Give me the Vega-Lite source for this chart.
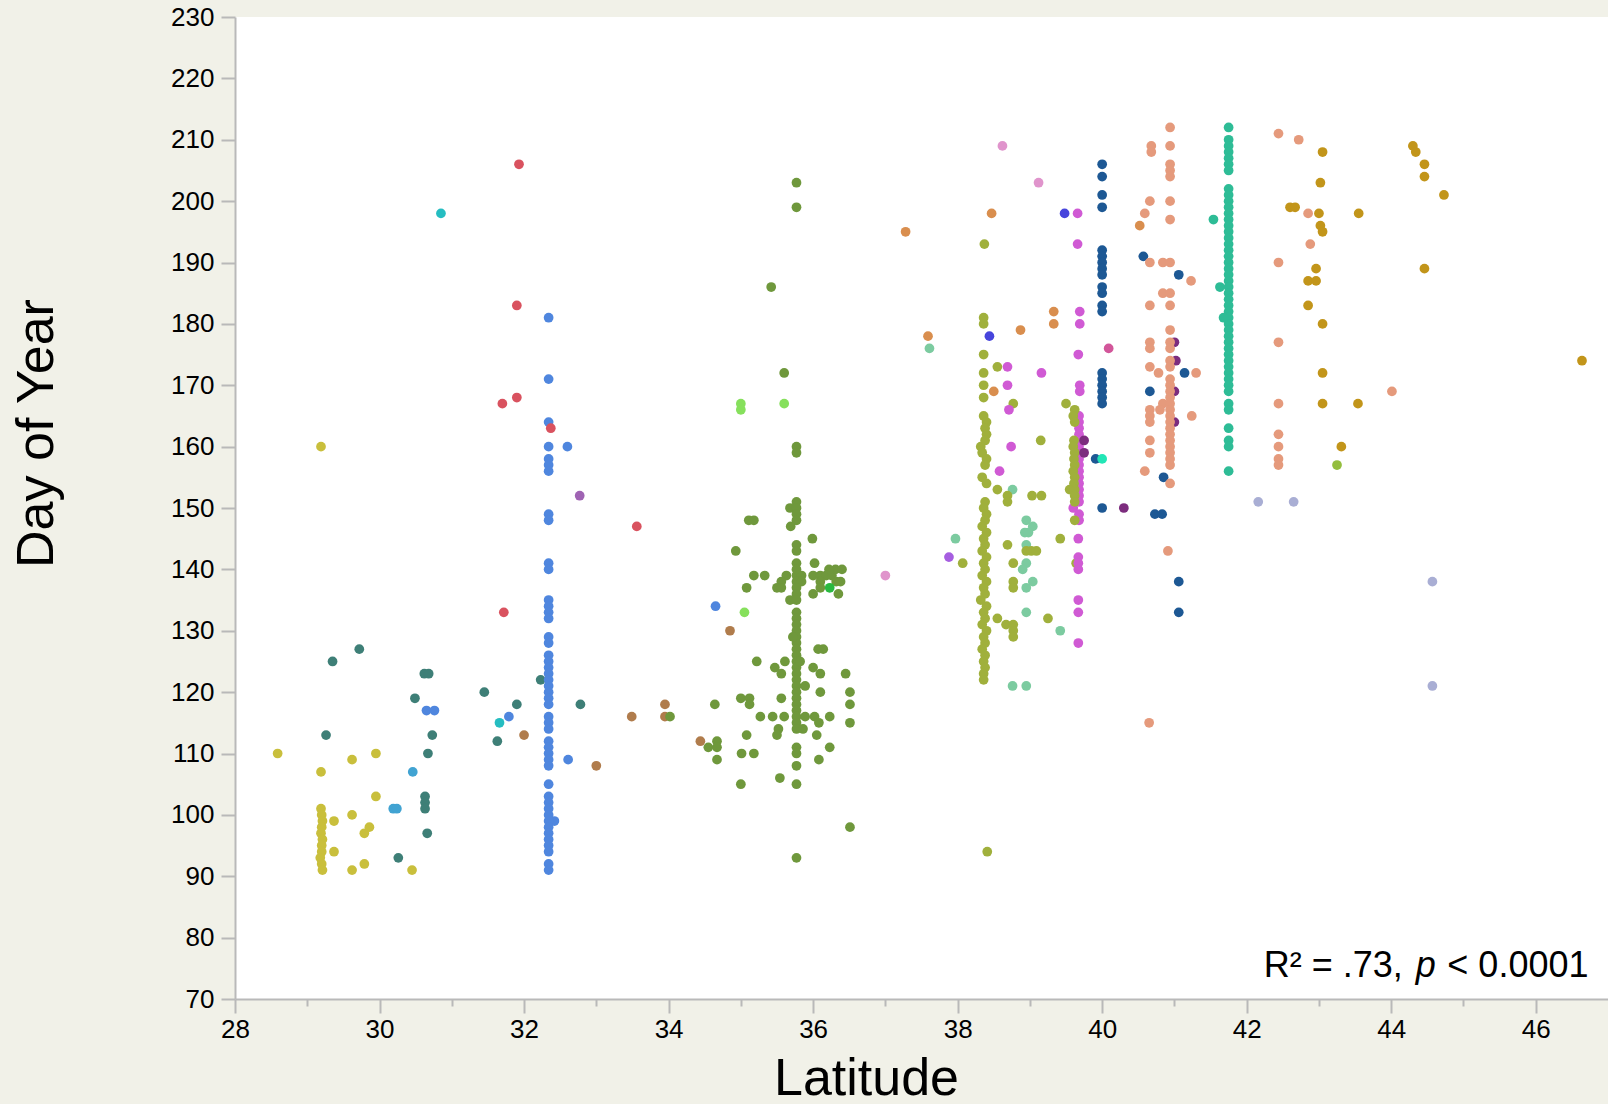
{
"$schema": "https://vega.github.io/schema/vega-lite/v6.json",
"width": 1373, "height": 982,
"autosize": {"type": "none"},
"padding": {"left": 235, "top": 17, "right": 0, "bottom": 105},
"background": "#f1f1e8",
"config": {"view": {"stroke": null, "fill": "#ffffff"}, "font": "Liberation Sans"},
"datasets": {
"pts": [
{"g":"g1","lat":28.59,"doy":110},{"g":"g1","lat":29.19,"doy":107},{"g":"g1","lat":29.19,"doy":160},{"g":"g1","lat":29.19,"doy":101},{"g":"g1","lat":29.2,"doy":100},{"g":"g1","lat":29.21,"doy":99},{"g":"g1","lat":29.2,"doy":98},{"g":"g1","lat":29.19,"doy":97},{"g":"g1","lat":29.21,"doy":96},{"g":"g1","lat":29.2,"doy":95},{"g":"g1","lat":29.2,"doy":94},{"g":"g1","lat":29.18,"doy":93},{"g":"g1","lat":29.2,"doy":92},{"g":"g1","lat":29.21,"doy":91},{"g":"g1","lat":29.37,"doy":99},{"g":"g1","lat":29.37,"doy":94},{"g":"g1","lat":29.62,"doy":109},{"g":"g1","lat":29.62,"doy":100},{"g":"g1","lat":29.62,"doy":91},{"g":"g1","lat":29.79,"doy":97},{"g":"g1","lat":29.86,"doy":98},{"g":"g1","lat":29.79,"doy":92},{"g":"g1","lat":29.95,"doy":110},{"g":"g1","lat":29.95,"doy":103},{"g":"g1","lat":30.45,"doy":91},
{"g":"g2","lat":29.35,"doy":125},{"g":"g2","lat":29.72,"doy":127},{"g":"g2","lat":29.26,"doy":113},{"g":"g2","lat":30.49,"doy":119},{"g":"g2","lat":30.62,"doy":123},{"g":"g2","lat":30.68,"doy":123},{"g":"g2","lat":30.73,"doy":113},{"g":"g2","lat":30.67,"doy":110},{"g":"g2","lat":30.63,"doy":103},{"g":"g2","lat":30.63,"doy":102},{"g":"g2","lat":30.63,"doy":101},{"g":"g2","lat":30.66,"doy":97},{"g":"g2","lat":30.26,"doy":93},{"g":"g2","lat":31.45,"doy":120},{"g":"g2","lat":31.9,"doy":118},{"g":"g2","lat":32.23,"doy":122},{"g":"g2","lat":32.78,"doy":118},{"g":"g2","lat":31.63,"doy":112},
{"g":"g3","lat":30.46,"doy":107},{"g":"g3","lat":30.19,"doy":101},{"g":"g3","lat":30.24,"doy":101},
{"g":"g4","lat":30.65,"doy":117},{"g":"g4","lat":30.76,"doy":117},{"g":"g4","lat":31.79,"doy":116},{"g":"g4","lat":32.61,"doy":109},{"g":"g4","lat":32.42,"doy":99},{"g":"g4","lat":32.6,"doy":160},{"g":"g4","lat":34.65,"doy":134},
{"g":"g4","lat":32.34,"doy":181},{"g":"g4","lat":32.34,"doy":171},{"g":"g4","lat":32.34,"doy":164},{"g":"g4","lat":32.34,"doy":160},{"g":"g4","lat":32.34,"doy":158},{"g":"g4","lat":32.34,"doy":157},{"g":"g4","lat":32.34,"doy":156},{"g":"g4","lat":32.34,"doy":149},{"g":"g4","lat":32.34,"doy":148},{"g":"g4","lat":32.34,"doy":141},{"g":"g4","lat":32.34,"doy":140},{"g":"g4","lat":32.34,"doy":135},{"g":"g4","lat":32.34,"doy":134},{"g":"g4","lat":32.34,"doy":133},{"g":"g4","lat":32.34,"doy":132},{"g":"g4","lat":32.34,"doy":129},{"g":"g4","lat":32.34,"doy":128},{"g":"g4","lat":32.34,"doy":126},{"g":"g4","lat":32.34,"doy":125},{"g":"g4","lat":32.34,"doy":124},{"g":"g4","lat":32.34,"doy":123},{"g":"g4","lat":32.34,"doy":122},{"g":"g4","lat":32.34,"doy":121},{"g":"g4","lat":32.34,"doy":120},{"g":"g4","lat":32.34,"doy":119},{"g":"g4","lat":32.34,"doy":118},{"g":"g4","lat":32.34,"doy":116},{"g":"g4","lat":32.34,"doy":115},{"g":"g4","lat":32.34,"doy":114},{"g":"g4","lat":32.34,"doy":112},{"g":"g4","lat":32.34,"doy":111},{"g":"g4","lat":32.34,"doy":110},{"g":"g4","lat":32.34,"doy":109},{"g":"g4","lat":32.34,"doy":108},{"g":"g4","lat":32.34,"doy":105},{"g":"g4","lat":32.34,"doy":103},{"g":"g4","lat":32.34,"doy":102},{"g":"g4","lat":32.34,"doy":101},{"g":"g4","lat":32.34,"doy":100},{"g":"g4","lat":32.34,"doy":99},{"g":"g4","lat":32.34,"doy":98},{"g":"g4","lat":32.34,"doy":97},{"g":"g4","lat":32.34,"doy":96},{"g":"g4","lat":32.34,"doy":95},{"g":"g4","lat":32.34,"doy":94},{"g":"g4","lat":32.34,"doy":92},{"g":"g4","lat":32.34,"doy":91},
{"g":"g5","lat":31.93,"doy":206},{"g":"g5","lat":31.9,"doy":183},{"g":"g5","lat":31.9,"doy":168},{"g":"g5","lat":31.7,"doy":167},{"g":"g5","lat":32.37,"doy":163},{"g":"g5","lat":33.56,"doy":147},{"g":"g5","lat":31.72,"doy":133},
{"g":"g6","lat":30.85,"doy":198},{"g":"g6","lat":31.66,"doy":115},
{"g":"g7","lat":32.0,"doy":113},{"g":"g7","lat":33.0,"doy":108},{"g":"g7","lat":33.49,"doy":116},{"g":"g7","lat":33.95,"doy":118},{"g":"g7","lat":33.95,"doy":116},{"g":"g7","lat":34.44,"doy":112},{"g":"g7","lat":34.85,"doy":130},
{"g":"g8","lat":32.77,"doy":152},
{"g":"g9","lat":35.77,"doy":203},{"g":"g9","lat":35.77,"doy":199},{"g":"g9","lat":35.42,"doy":186},{"g":"g9","lat":35.6,"doy":172},{"g":"g9","lat":35.77,"doy":160},{"g":"g9","lat":35.77,"doy":159},{"g":"g9","lat":35.77,"doy":151},{"g":"g9","lat":35.68,"doy":150},{"g":"g9","lat":35.77,"doy":150},{"g":"g9","lat":35.77,"doy":149},{"g":"g9","lat":35.77,"doy":148},{"g":"g9","lat":35.11,"doy":148},{"g":"g9","lat":35.18,"doy":148},{"g":"g9","lat":35.69,"doy":147},{"g":"g9","lat":35.99,"doy":145},{"g":"g9","lat":35.77,"doy":144},{"g":"g9","lat":35.77,"doy":143},{"g":"g9","lat":34.93,"doy":143},{"g":"g9","lat":35.77,"doy":141},{"g":"g9","lat":36.02,"doy":141},{"g":"g9","lat":35.18,"doy":139},{"g":"g9","lat":35.33,"doy":139},
{"g":"g9","lat":35.63,"doy":139},{"g":"g9","lat":35.77,"doy":139},{"g":"g9","lat":35.84,"doy":139},{"g":"g9","lat":36.0,"doy":139},{"g":"g9","lat":36.1,"doy":139},{"g":"g9","lat":36.18,"doy":139},{"g":"g9","lat":36.26,"doy":139},{"g":"g9","lat":36.31,"doy":140},{"g":"g9","lat":36.4,"doy":140},{"g":"g9","lat":36.22,"doy":140},{"g":"g9","lat":35.77,"doy":140},{"g":"g9","lat":35.56,"doy":138},{"g":"g9","lat":35.77,"doy":138},{"g":"g9","lat":35.84,"doy":138},{"g":"g9","lat":36.1,"doy":138},{"g":"g9","lat":36.32,"doy":138},{"g":"g9","lat":36.38,"doy":138},{"g":"g9","lat":35.08,"doy":137},{"g":"g9","lat":35.5,"doy":137},{"g":"g9","lat":35.56,"doy":137},{"g":"g9","lat":35.77,"doy":137},{"g":"g9","lat":36.1,"doy":137},{"g":"g9","lat":35.77,"doy":136},{"g":"g9","lat":36.0,"doy":136},{"g":"g9","lat":36.35,"doy":136},{"g":"g9","lat":35.68,"doy":135},{"g":"g9","lat":35.77,"doy":135},
{"g":"g9","lat":35.77,"doy":133},{"g":"g9","lat":35.77,"doy":132},{"g":"g9","lat":35.77,"doy":131},{"g":"g9","lat":35.77,"doy":130},{"g":"g9","lat":35.77,"doy":129},{"g":"g9","lat":35.77,"doy":128},{"g":"g9","lat":35.77,"doy":127},{"g":"g9","lat":35.77,"doy":126},{"g":"g9","lat":35.77,"doy":125},{"g":"g9","lat":35.77,"doy":124},{"g":"g9","lat":35.77,"doy":123},{"g":"g9","lat":35.77,"doy":122},{"g":"g9","lat":35.77,"doy":121},{"g":"g9","lat":35.77,"doy":120},{"g":"g9","lat":35.77,"doy":119},{"g":"g9","lat":35.77,"doy":118},{"g":"g9","lat":35.77,"doy":117},{"g":"g9","lat":35.77,"doy":116},{"g":"g9","lat":35.77,"doy":115},{"g":"g9","lat":35.77,"doy":114},
{"g":"g9","lat":35.72,"doy":129},{"g":"g9","lat":36.14,"doy":127},{"g":"g9","lat":36.07,"doy":127},{"g":"g9","lat":35.22,"doy":125},{"g":"g9","lat":35.61,"doy":125},{"g":"g9","lat":35.82,"doy":125},{"g":"g9","lat":35.47,"doy":124},{"g":"g9","lat":35.56,"doy":123},{"g":"g9","lat":36.0,"doy":124},{"g":"g9","lat":36.1,"doy":123},{"g":"g9","lat":36.45,"doy":123},{"g":"g9","lat":35.89,"doy":121},{"g":"g9","lat":36.1,"doy":120},{"g":"g9","lat":36.51,"doy":120},{"g":"g9","lat":36.51,"doy":118},{"g":"g9","lat":36.51,"doy":115},{"g":"g9","lat":35.0,"doy":119},{"g":"g9","lat":35.12,"doy":119},{"g":"g9","lat":35.12,"doy":118},{"g":"g9","lat":35.56,"doy":119},{"g":"g9","lat":34.64,"doy":118},{"g":"g9","lat":35.27,"doy":116},{"g":"g9","lat":35.44,"doy":116},{"g":"g9","lat":35.6,"doy":116},{"g":"g9","lat":35.89,"doy":116},{"g":"g9","lat":36.02,"doy":116},{"g":"g9","lat":36.23,"doy":116},{"g":"g9","lat":34.02,"doy":116},{"g":"g9","lat":36.08,"doy":115},{"g":"g9","lat":35.52,"doy":114},{"g":"g9","lat":35.86,"doy":114},{"g":"g9","lat":35.08,"doy":113},{"g":"g9","lat":35.5,"doy":113},{"g":"g9","lat":36.05,"doy":113},{"g":"g9","lat":34.67,"doy":112},{"g":"g9","lat":34.55,"doy":111},{"g":"g9","lat":34.67,"doy":111},{"g":"g9","lat":35.77,"doy":111},{"g":"g9","lat":35.77,"doy":110},{"g":"g9","lat":36.23,"doy":111},{"g":"g9","lat":35.01,"doy":110},{"g":"g9","lat":35.18,"doy":110},{"g":"g9","lat":36.08,"doy":109},{"g":"g9","lat":34.67,"doy":109},{"g":"g9","lat":35.77,"doy":108},{"g":"g9","lat":35.54,"doy":106},{"g":"g9","lat":35.0,"doy":105},{"g":"g9","lat":35.77,"doy":105},{"g":"g9","lat":36.51,"doy":98},{"g":"g9","lat":35.77,"doy":93},
{"g":"g10","lat":35.0,"doy":167},{"g":"g10","lat":35.0,"doy":166},{"g":"g10","lat":35.6,"doy":167},{"g":"g10","lat":35.05,"doy":133},
{"g":"g11","lat":36.23,"doy":137},
{"g":"g12","lat":37.0,"doy":139},{"g":"g12","lat":38.62,"doy":209},{"g":"g12","lat":39.12,"doy":203},
{"g":"g13","lat":37.59,"doy":178},{"g":"g13","lat":37.28,"doy":195},{"g":"g13","lat":38.47,"doy":198},{"g":"g13","lat":39.33,"doy":182},{"g":"g13","lat":39.33,"doy":180},{"g":"g13","lat":38.87,"doy":179},{"g":"g13","lat":38.5,"doy":169},{"g":"g13","lat":40.52,"doy":196},
{"g":"g14","lat":37.61,"doy":176},{"g":"g14","lat":38.76,"doy":153},{"g":"g14","lat":38.95,"doy":148},{"g":"g14","lat":39.04,"doy":147},{"g":"g14","lat":38.93,"doy":146},{"g":"g14","lat":38.98,"doy":146},{"g":"g14","lat":37.97,"doy":145},{"g":"g14","lat":38.95,"doy":144},{"g":"g14","lat":38.95,"doy":141},{"g":"g14","lat":38.9,"doy":140},{"g":"g14","lat":39.04,"doy":138},{"g":"g14","lat":38.95,"doy":137},{"g":"g14","lat":38.95,"doy":133},{"g":"g14","lat":39.42,"doy":130},{"g":"g14","lat":38.76,"doy":121},{"g":"g14","lat":38.95,"doy":121},
{"g":"g15","lat":38.36,"doy":181},{"g":"g15","lat":38.36,"doy":180},{"g":"g15","lat":38.36,"doy":175},{"g":"g15","lat":38.55,"doy":173},{"g":"g15","lat":38.36,"doy":172},{"g":"g15","lat":38.36,"doy":170},{"g":"g15","lat":38.36,"doy":168},{"g":"g15","lat":38.77,"doy":167},{"g":"g15","lat":39.5,"doy":167},{"g":"g15","lat":39.15,"doy":161},{"g":"g15","lat":38.37,"doy":193},{"g":"g15","lat":38.41,"doy":94},
{"g":"g15","lat":38.36,"doy":165},{"g":"g15","lat":38.4,"doy":164},{"g":"g15","lat":38.38,"doy":163},{"g":"g15","lat":38.4,"doy":162},{"g":"g15","lat":38.38,"doy":161},{"g":"g15","lat":38.32,"doy":160},{"g":"g15","lat":38.34,"doy":159},{"g":"g15","lat":38.4,"doy":158},{"g":"g15","lat":38.38,"doy":157},{"g":"g15","lat":38.34,"doy":155},{"g":"g15","lat":38.4,"doy":154},{"g":"g15","lat":38.38,"doy":151},{"g":"g15","lat":38.36,"doy":150},{"g":"g15","lat":38.4,"doy":149},{"g":"g15","lat":38.38,"doy":148},{"g":"g15","lat":38.34,"doy":147},{"g":"g15","lat":38.4,"doy":146},{"g":"g15","lat":38.36,"doy":145},{"g":"g15","lat":38.38,"doy":144},{"g":"g15","lat":38.34,"doy":143},{"g":"g15","lat":38.4,"doy":142},{"g":"g15","lat":38.36,"doy":141},{"g":"g15","lat":38.38,"doy":140},{"g":"g15","lat":38.34,"doy":139},{"g":"g15","lat":38.4,"doy":138},{"g":"g15","lat":38.36,"doy":137},{"g":"g15","lat":38.38,"doy":136},{"g":"g15","lat":38.32,"doy":135},{"g":"g15","lat":38.4,"doy":134},{"g":"g15","lat":38.36,"doy":133},{"g":"g15","lat":38.38,"doy":132},{"g":"g15","lat":38.34,"doy":131},{"g":"g15","lat":38.4,"doy":130},{"g":"g15","lat":38.36,"doy":129},{"g":"g15","lat":38.38,"doy":128},{"g":"g15","lat":38.34,"doy":127},{"g":"g15","lat":38.38,"doy":126},{"g":"g15","lat":38.36,"doy":125},{"g":"g15","lat":38.38,"doy":124},{"g":"g15","lat":38.36,"doy":123},{"g":"g15","lat":38.36,"doy":122},
{"g":"g15","lat":38.55,"doy":153},{"g":"g15","lat":38.69,"doy":152},{"g":"g15","lat":38.69,"doy":151},{"g":"g15","lat":39.03,"doy":152},{"g":"g15","lat":39.16,"doy":152},{"g":"g15","lat":38.69,"doy":144},{"g":"g15","lat":39.42,"doy":145},{"g":"g15","lat":38.95,"doy":143},{"g":"g15","lat":39.02,"doy":143},{"g":"g15","lat":39.09,"doy":143},{"g":"g15","lat":38.07,"doy":141},{"g":"g15","lat":38.77,"doy":141},{"g":"g15","lat":38.77,"doy":138},{"g":"g15","lat":38.77,"doy":137},{"g":"g15","lat":38.55,"doy":132},{"g":"g15","lat":38.67,"doy":131},{"g":"g15","lat":38.77,"doy":131},{"g":"g15","lat":38.77,"doy":130},{"g":"g15","lat":38.77,"doy":129},{"g":"g15","lat":39.25,"doy":132},{"g":"g15","lat":39.64,"doy":141},
{"g":"g16","lat":39.69,"doy":182},{"g":"g16","lat":39.69,"doy":180},{"g":"g16","lat":39.67,"doy":175},{"g":"g16","lat":38.69,"doy":173},{"g":"g16","lat":39.16,"doy":172},{"g":"g16","lat":38.69,"doy":170},{"g":"g16","lat":39.69,"doy":170},{"g":"g16","lat":39.69,"doy":169},{"g":"g16","lat":38.71,"doy":166},{"g":"g16","lat":38.58,"doy":156},{"g":"g16","lat":38.74,"doy":160},{"g":"g16","lat":39.66,"doy":198},{"g":"g16","lat":39.66,"doy":193},{"g":"g16","lat":39.67,"doy":145},{"g":"g16","lat":39.67,"doy":142},{"g":"g16","lat":39.67,"doy":141},{"g":"g16","lat":39.67,"doy":140},{"g":"g16","lat":39.67,"doy":135},{"g":"g16","lat":39.67,"doy":133},{"g":"g16","lat":39.67,"doy":128},
{"g":"g16","lat":39.68,"doy":165},{"g":"g16","lat":39.68,"doy":164},{"g":"g16","lat":39.68,"doy":163},{"g":"g16","lat":39.68,"doy":162},{"g":"g16","lat":39.68,"doy":161},{"g":"g16","lat":39.68,"doy":160},{"g":"g16","lat":39.68,"doy":159},{"g":"g16","lat":39.68,"doy":158},{"g":"g16","lat":39.68,"doy":157},{"g":"g16","lat":39.68,"doy":156},{"g":"g16","lat":39.68,"doy":155},{"g":"g16","lat":39.68,"doy":154},{"g":"g16","lat":39.68,"doy":153},{"g":"g16","lat":39.68,"doy":152},{"g":"g16","lat":39.68,"doy":151},{"g":"g16","lat":39.6,"doy":150},{"g":"g16","lat":39.68,"doy":149},{"g":"g16","lat":39.68,"doy":148},
{"g":"g15","lat":39.62,"doy":166},{"g":"g15","lat":39.6,"doy":165},{"g":"g15","lat":39.62,"doy":164},{"g":"g15","lat":39.61,"doy":161},{"g":"g15","lat":39.6,"doy":160},{"g":"g15","lat":39.62,"doy":159},{"g":"g15","lat":39.61,"doy":158},{"g":"g15","lat":39.62,"doy":157},{"g":"g15","lat":39.6,"doy":156},{"g":"g15","lat":39.62,"doy":155},{"g":"g15","lat":39.61,"doy":154},{"g":"g15","lat":39.62,"doy":153},{"g":"g15","lat":39.55,"doy":153},{"g":"g15","lat":39.62,"doy":152},{"g":"g15","lat":39.62,"doy":151},{"g":"g15","lat":39.62,"doy":148},
{"g":"g17","lat":37.88,"doy":142},
{"g":"g18","lat":38.44,"doy":178},{"g":"g18","lat":39.48,"doy":198},
{"g":"g19","lat":40.0,"doy":206},{"g":"g19","lat":40.0,"doy":204},{"g":"g19","lat":40.0,"doy":201},{"g":"g19","lat":40.0,"doy":199},{"g":"g19","lat":40.0,"doy":192},{"g":"g19","lat":40.0,"doy":191},{"g":"g19","lat":40.0,"doy":190},{"g":"g19","lat":40.0,"doy":189},{"g":"g19","lat":40.0,"doy":188},{"g":"g19","lat":40.0,"doy":186},{"g":"g19","lat":40.0,"doy":185},{"g":"g19","lat":40.0,"doy":183},{"g":"g19","lat":40.0,"doy":182},{"g":"g19","lat":40.0,"doy":172},{"g":"g19","lat":40.0,"doy":171},{"g":"g19","lat":40.0,"doy":170},{"g":"g19","lat":40.0,"doy":169},{"g":"g19","lat":40.0,"doy":168},{"g":"g19","lat":40.0,"doy":167},{"g":"g19","lat":40.57,"doy":191},{"g":"g19","lat":41.06,"doy":188},{"g":"g19","lat":41.14,"doy":172},{"g":"g19","lat":40.66,"doy":169},{"g":"g19","lat":40.85,"doy":155},{"g":"g19","lat":39.91,"doy":158},{"g":"g19","lat":40.0,"doy":150},{"g":"g19","lat":40.73,"doy":149},{"g":"g19","lat":40.83,"doy":149},{"g":"g19","lat":41.06,"doy":138},{"g":"g19","lat":41.06,"doy":133},
{"g":"g21","lat":41.0,"doy":177},{"g":"g21","lat":41.02,"doy":174},{"g":"g21","lat":41.0,"doy":169},{"g":"g21","lat":41.0,"doy":164},{"g":"g21","lat":39.75,"doy":161},{"g":"g21","lat":39.75,"doy":159},{"g":"g21","lat":40.3,"doy":150},
{"g":"g20","lat":40.94,"doy":212},{"g":"g20","lat":40.68,"doy":209},{"g":"g20","lat":40.68,"doy":208},{"g":"g20","lat":40.94,"doy":209},{"g":"g20","lat":40.94,"doy":206},{"g":"g20","lat":40.94,"doy":205},{"g":"g20","lat":40.94,"doy":204},{"g":"g20","lat":40.66,"doy":200},{"g":"g20","lat":40.94,"doy":200},{"g":"g20","lat":40.59,"doy":198},{"g":"g20","lat":40.94,"doy":197},{"g":"g20","lat":40.66,"doy":190},{"g":"g20","lat":40.84,"doy":190},{"g":"g20","lat":40.94,"doy":190},{"g":"g20","lat":41.23,"doy":187},{"g":"g20","lat":40.84,"doy":185},{"g":"g20","lat":40.94,"doy":185},{"g":"g20","lat":40.66,"doy":183},{"g":"g20","lat":40.94,"doy":183},{"g":"g20","lat":40.94,"doy":179},{"g":"g20","lat":40.66,"doy":177},{"g":"g20","lat":40.66,"doy":176},{"g":"g20","lat":40.94,"doy":177},{"g":"g20","lat":40.94,"doy":176},{"g":"g20","lat":40.94,"doy":174},{"g":"g20","lat":40.66,"doy":173},{"g":"g20","lat":40.94,"doy":173},{"g":"g20","lat":40.78,"doy":172},{"g":"g20","lat":41.3,"doy":172},{"g":"g20","lat":40.84,"doy":167},{"g":"g20","lat":40.8,"doy":166},{"g":"g20","lat":40.66,"doy":166},{"g":"g20","lat":40.66,"doy":165},{"g":"g20","lat":40.66,"doy":164},{"g":"g20","lat":41.24,"doy":165},{"g":"g20","lat":40.66,"doy":161},{"g":"g20","lat":40.66,"doy":159},{"g":"g20","lat":40.59,"doy":156},{"g":"g20","lat":40.94,"doy":157},{"g":"g20","lat":40.94,"doy":154},{"g":"g20","lat":40.91,"doy":143},{"g":"g20","lat":40.65,"doy":115},
{"g":"g20","lat":40.94,"doy":171},{"g":"g20","lat":40.94,"doy":170},{"g":"g20","lat":40.94,"doy":169},{"g":"g20","lat":40.94,"doy":168},{"g":"g20","lat":40.94,"doy":167},{"g":"g20","lat":40.94,"doy":166},{"g":"g20","lat":40.94,"doy":165},{"g":"g20","lat":40.94,"doy":164},{"g":"g20","lat":40.94,"doy":163},{"g":"g20","lat":40.94,"doy":162},{"g":"g20","lat":40.94,"doy":161},{"g":"g20","lat":40.94,"doy":160},{"g":"g20","lat":40.94,"doy":159},{"g":"g20","lat":40.94,"doy":158},
{"g":"g20","lat":42.44,"doy":211},{"g":"g20","lat":42.72,"doy":210},{"g":"g20","lat":42.44,"doy":190},{"g":"g20","lat":42.85,"doy":198},{"g":"g20","lat":42.88,"doy":193},{"g":"g20","lat":42.44,"doy":177},{"g":"g20","lat":44.01,"doy":169},{"g":"g20","lat":42.44,"doy":167},{"g":"g20","lat":42.44,"doy":162},{"g":"g20","lat":42.44,"doy":160},{"g":"g20","lat":42.44,"doy":158},{"g":"g20","lat":42.44,"doy":157},
{"g":"g22","lat":41.75,"doy":212},{"g":"g22","lat":41.75,"doy":210},{"g":"g22","lat":41.75,"doy":209},{"g":"g22","lat":41.75,"doy":208},{"g":"g22","lat":41.75,"doy":207},{"g":"g22","lat":41.75,"doy":206},{"g":"g22","lat":41.75,"doy":205},{"g":"g22","lat":41.75,"doy":202},{"g":"g22","lat":41.75,"doy":201},{"g":"g22","lat":41.75,"doy":200},{"g":"g22","lat":41.75,"doy":199},{"g":"g22","lat":41.75,"doy":198},{"g":"g22","lat":41.75,"doy":197},{"g":"g22","lat":41.75,"doy":196},{"g":"g22","lat":41.75,"doy":195},{"g":"g22","lat":41.75,"doy":194},{"g":"g22","lat":41.75,"doy":193},{"g":"g22","lat":41.75,"doy":192},{"g":"g22","lat":41.75,"doy":191},{"g":"g22","lat":41.75,"doy":190},{"g":"g22","lat":41.75,"doy":189},{"g":"g22","lat":41.75,"doy":188},{"g":"g22","lat":41.75,"doy":187},{"g":"g22","lat":41.75,"doy":186},{"g":"g22","lat":41.75,"doy":185},{"g":"g22","lat":41.75,"doy":184},{"g":"g22","lat":41.75,"doy":183},{"g":"g22","lat":41.75,"doy":182},{"g":"g22","lat":41.75,"doy":181},{"g":"g22","lat":41.75,"doy":180},{"g":"g22","lat":41.75,"doy":179},{"g":"g22","lat":41.75,"doy":178},{"g":"g22","lat":41.75,"doy":177},{"g":"g22","lat":41.75,"doy":176},{"g":"g22","lat":41.75,"doy":175},{"g":"g22","lat":41.75,"doy":174},{"g":"g22","lat":41.75,"doy":173},{"g":"g22","lat":41.75,"doy":172},{"g":"g22","lat":41.75,"doy":171},{"g":"g22","lat":41.75,"doy":170},{"g":"g22","lat":41.75,"doy":169},{"g":"g22","lat":41.75,"doy":167},{"g":"g22","lat":41.75,"doy":166},{"g":"g22","lat":41.75,"doy":163},{"g":"g22","lat":41.75,"doy":161},{"g":"g22","lat":41.75,"doy":160},{"g":"g22","lat":41.75,"doy":156},{"g":"g22","lat":41.54,"doy":197},{"g":"g22","lat":41.63,"doy":186},{"g":"g22","lat":41.68,"doy":181},
{"g":"g23","lat":40.0,"doy":158},
{"g":"g24","lat":43.05,"doy":208},{"g":"g24","lat":43.02,"doy":203},{"g":"g24","lat":42.6,"doy":199},{"g":"g24","lat":42.67,"doy":199},{"g":"g24","lat":43.0,"doy":198},{"g":"g24","lat":43.02,"doy":196},{"g":"g24","lat":43.05,"doy":195},{"g":"g24","lat":43.55,"doy":198},{"g":"g24","lat":42.96,"doy":189},{"g":"g24","lat":42.85,"doy":187},{"g":"g24","lat":42.96,"doy":187},{"g":"g24","lat":42.85,"doy":183},{"g":"g24","lat":43.05,"doy":180},{"g":"g24","lat":43.05,"doy":172},{"g":"g24","lat":43.05,"doy":167},{"g":"g24","lat":43.54,"doy":167},{"g":"g24","lat":43.31,"doy":160},{"g":"g24","lat":44.3,"doy":209},{"g":"g24","lat":44.34,"doy":208},{"g":"g24","lat":44.46,"doy":206},{"g":"g24","lat":44.46,"doy":204},{"g":"g24","lat":44.73,"doy":201},{"g":"g24","lat":44.46,"doy":189},{"g":"g24","lat":46.64,"doy":174},
{"g":"g25","lat":42.16,"doy":151},{"g":"g25","lat":42.65,"doy":151},{"g":"g25","lat":44.57,"doy":138},{"g":"g25","lat":44.57,"doy":121},
{"g":"g26","lat":43.25,"doy":157},
{"g":"g27","lat":40.09,"doy":176}
],
"ann": [{"lat": 44.16, "doy": 73.6, "t": "R² = .73,"}, {"lat": 46.73, "doy": 73.6, "t": "< 0.0001"}],
"annp": [{"lat": 44.34, "doy": 73.6, "t": "p"}]
},
"layer": [
{
"data": {"name": "pts"},
"mark": {"type": "circle", "size": 95, "opacity": 1},
"encoding": {
"x": {"field": "lat", "type": "quantitative",
 "scale": {"domain": [28, 47], "nice": false, "zero": false},
 "axis": {"values": [28,29,30,31,32,33,34,35,36,37,38,39,40,41,42,43,44,45,46],
  "format": "d",
  "labelExpr": "datum.value % 2 === 0 ? datum.label : ''",
  "tickSize": {"condition": {"test": "datum.value % 2 === 0", "value": 14}, "value": 7},
  "grid": false, "domainColor": "#b9b9b9", "tickColor": "#b9b9b9", "domainWidth": 2, "tickWidth": 2,
  "labelFontSize": 26, "labelColor": "#000000", "labelPadding": 3, "labelFlush": false, "labelOverlap": false,
  "title": "Latitude", "titleFontSize": 52, "titleFontWeight": "normal", "titleColor": "#000000",
  "titleX": 631, "titleY": 95, "titleBaseline": "alphabetic", "titleAlign": "center"}},
"y": {"field": "doy", "type": "quantitative",
 "scale": {"domain": [70, 230], "nice": false, "zero": false},
 "axis": {"values": [70,75,80,85,90,95,100,105,110,115,120,125,130,135,140,145,150,155,160,165,170,175,180,185,190,195,200,205,210,215,220,225,230],
  "format": "d",
  "labelExpr": "datum.value % 10 === 0 ? datum.label : ''",
  "tickSize": {"condition": {"test": "datum.value % 10 === 0", "value": 14}, "value": 7},
  "grid": false, "domainColor": "#b9b9b9", "tickColor": "#b9b9b9", "domainWidth": 2, "tickWidth": 2,
  "labelFontSize": 26, "labelColor": "#000000", "labelPadding": 7, "labelFlush": false, "labelOverlap": false,
  "title": "Day of Year", "titleFontSize": 52, "titleFontWeight": "normal", "titleColor": "#000000",
  "titleAngle": -90, "titleX": -183, "titleY": 416, "titleBaseline": "alphabetic", "titleAlign": "center"}},
"color": {"field": "g", "type": "nominal", "legend": null,
 "scale": {"domain": ["g1","g2","g3","g4","g5","g6","g7","g8","g9","g10","g11","g12","g13","g14","g15","g16","g17","g18","g19","g20","g21","g22","g23","g24","g25","g26","g27"],
  "range": ["#c9bf3c","#3e7f77","#41a3d2","#4f86de","#d9525f","#25bdc1","#b07c4c","#9f63b3","#6f983c","#86e05c","#2ab940","#e094cc","#d98e4e","#7ccba0","#a0b03c","#d05ad4","#a65ee0","#4745dc","#1d5894","#e59a7c","#7c2c7e","#2ebc96","#22e6b6","#c2951a","#a9aed4","#94be3e","#d2569a"]}}
}
},
{
"data": {"name": "ann"},
"mark": {"type": "text", "align": "right", "baseline": "alphabetic", "fontSize": 36, "font": "Liberation Sans", "color": "#000000"},
"encoding": {
"x": {"field": "lat", "type": "quantitative", "title": "Latitude"},
"y": {"field": "doy", "type": "quantitative", "title": "Day of Year"},
"text": {"field": "t"}
}
},
{
"data": {"name": "annp"},
"mark": {"type": "text", "align": "left", "baseline": "alphabetic", "fontSize": 36, "fontStyle": "italic", "font": "Liberation Sans", "color": "#000000"},
"encoding": {
"x": {"field": "lat", "type": "quantitative", "title": "Latitude"},
"y": {"field": "doy", "type": "quantitative", "title": "Day of Year"},
"text": {"field": "t"}
}
}
]
}
